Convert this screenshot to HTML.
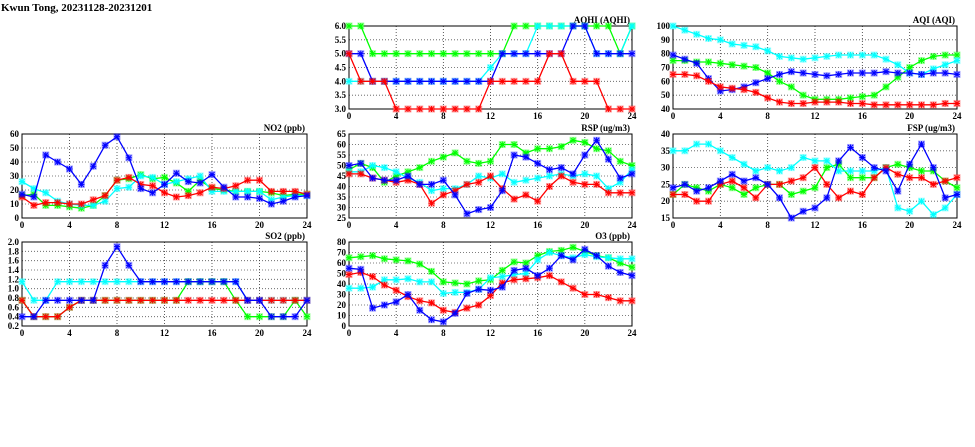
<!DOCTYPE html>
<html><head><meta charset="utf-8"><style>
html,body{margin:0;padding:0;background:#fff;width:975px;height:447px;overflow:hidden}
svg{display:block}
text{font-family:"Liberation Serif",serif;font-weight:bold;fill:#000}
</style></head><body>
<svg id="chart" width="975" height="447" viewBox="0 0 975 447" xmlns="http://www.w3.org/2000/svg">
<text x="1" y="11" font-size="11">Kwun Tong, 20231128-20231201</text>
</svg>
<script>
const hours = [0,1,2,3,4,5,6,7,8,9,10,11,12,13,14,15,16,17,18,19,20,21,22,23,24];
const xTicks = [0,4,8,12,16,20,24];
const GREEN = "#00ff00", CYAN = "#00ffff", BLUE = "#0000ff", RED = "#ff0000";

const aqhiGreen = [6,6,5,5,5,5,5,5,5,5,5,5,5,5,6,6,6,6,6,6,6,6,6,5,6];
const aqhiCyan  = [4,4,4,4,4,4,4,4,4,4,4,4,4.5,5,5,5,6,6,6,6,6,5,5,5,6];
const aqhiBlue  = [5,5,4,4,4,4,4,4,4,4,4,4,4,5,5,5,5,5,5,6,6,5,5,5,5];
const aqhiRed   = [5,4,4,4,3,3,3,3,3,3,3,3,4,4,4,4,4,5,5,4,4,4,3,3,3];
const aqhiTicks = [3.0,3.5,4.0,4.5,5.0,5.5,6.0];

const aqiCyan  = [100,97,94,91,90,87,86,85,82,78,77,76,77,78,79,79,79,79,76,72,66,65,69,72,75];
const aqiGreen = [75,75,74,74,73,72,71,70,66,60,56,50,47,47,47,48,49,50,56,63,70,75,78,79,79];
const aqiBlue  = [79,76,73,62,53,54,56,59,62,65,67,66,65,64,65,66,66,66,67,66,66,65,66,66,65];
const aqiRed   = [65,65,64,60,56,55,54,52,48,45,44,44,45,45,45,44,44,43,43,43,43,43,43,44,44];
const aqiTicks = [40,50,60,70,80,90,100];

const no2Cyan  = [26,21,18,12,10,9,9,12,21,22,30,29,24,26,28,30,19,19,19,19,19,13,15,16,16];
const no2Green = [16,17,9,9,8,7,9,16,27,28,31,28,29,25,19,27,21,20,19,19,19,18,16,17,17];
const no2Red   = [15,9,11,11,10,10,13,16,27,29,24,23,18,15,16,18,22,21,23,27,27,19,19,19,17];
const no2Blue  = [17,15,45,40,35,24,37,52,58,43,21,18,24,32,26,25,31,22,15,15,14,10,12,15,16];
const no2Ticks = [0,10,20,30,40,50,60];

const rspGreen = [48,51,49,42,45,47,49,52,54,56,52,51,52,60,60,56,58,58,59,62,61,58,57,52,50];
const rspCyan  = [47,47,50,49,47,44,42,38,39,39,41,45,44,46,42,43,44,45,46,45,46,45,39,42,48];
const rspRed   = [46,46,44,43,42,43,41,32,36,38,41,42,45,39,34,36,33,40,45,42,41,41,37,37,37];
const rspBlue  = [50,51,44,43,43,45,41,41,43,36,27,29,30,38,55,54,51,48,49,46,55,62,53,44,46];
const rspTicks = [25,30,35,40,45,50,55,60,65];

const fspCyan  = [35,35,37,37,35,33,31,29,30,29,30,33,32,32,29,29,29,29,30,18,17,20,16,18,22];
const fspGreen = [22,25,24,23,25,24,22,24,25,25,22,23,24,30,31,27,27,27,30,31,30,29,29,26,24];
const fspRed   = [22,22,20,20,25,26,24,21,25,25,26,27,30,25,21,23,22,27,30,28,27,27,25,26,27];
const fspBlue  = [24,25,23,24,26,28,26,27,25,21,15,17,18,21,32,36,33,30,29,23,31,37,30,21,22];
const fspTicks = [15,20,25,30,35,40];

const so2Cyan  = [1.15,0.75,0.75,1.15,1.15,1.15,1.15,1.15,1.15,1.15,1.15,1.15,1.15,1.15,1.15,1.15,1.15,1.15,1.15,0.75,0.75,0.75,0.75,0.75,0.75];
const so2Green = [0.75,0.4,0.4,0.4,0.6,0.75,0.75,0.75,0.75,0.75,0.75,0.75,0.75,0.75,1.15,1.15,1.15,1.15,0.75,0.4,0.4,0.4,0.4,0.75,0.4];
const so2Red   = [0.75,0.4,0.4,0.4,0.6,0.75,0.75,0.75,0.75,0.75,0.75,0.75,0.75,0.75,0.75,0.75,0.75,0.75,0.75,0.75,0.75,0.75,0.75,0.75,0.75];
const so2Blue  = [0.4,0.4,0.75,0.75,0.75,0.75,0.75,1.5,1.9,1.5,1.15,1.15,1.15,1.15,1.15,1.15,1.15,1.15,1.15,0.75,0.75,0.4,0.4,0.4,0.75];
const so2Ticks = [0.2,0.4,0.6,0.8,1.0,1.2,1.4,1.6,1.8,2.0];

const o3Green = [65,66,67,64,63,62,59,52,42,41,40,43,44,53,61,60,67,71,72,75,71,67,65,60,56];
const o3Cyan  = [36,36,37,44,44,45,42,42,31,32,32,35,46,47,49,50,63,70,67,65,68,66,65,64,64];
const o3Red   = [49,51,47,39,34,28,24,22,15,13,17,20,29,41,44,45,46,48,42,36,30,30,27,24,24];
const o3Blue  = [55,54,17,20,23,30,15,6,4,12,31,35,34,37,53,55,48,55,67,63,73,67,57,51,48];
const o3Ticks = [0,10,20,30,40,50,60,70,80];

const NS = "http://www.w3.org/2000/svg";
const svg = document.getElementById("chart");
function mk(tag, attrs, parent){
  const e = document.createElementNS(NS, tag);
  for (const k in attrs) e.setAttribute(k, attrs[k]);
  (parent||svg).appendChild(e);
  return e;
}

function panel(id, title, x0, x1, yTop, yBot, ticks, dec, series){
  const g = mk("g", {});
  
  
  const yMin = ticks[0], yMax = ticks[ticks.length-1];
  const xs = h => x0 + (h/24)*(x1-x0);
  const ys = v => yBot - (v-yMin)/(yMax-yMin)*(yBot-yTop);
  ticks.forEach(t => {
    const l = mk("line", {x1:x0, x2:x1, y1:ys(t), y2:ys(t), stroke:"#555", "stroke-width":0.8, "stroke-dasharray":"1,2"}, g);
    
    
    const tx = mk("text", {x:x0-3, y:ys(t)+3, "font-size":9, "text-anchor":"end"}, g);
    
    
    tx.textContent = t.toFixed(dec);
  });
  xTicks.forEach(t => {
    const l = mk("line", {x1:xs(t), x2:xs(t), y1:yTop, y2:yBot, stroke:"#333", "stroke-width":0.8, "stroke-dasharray":"1,2"}, g);
    
    
    const tx = mk("text", {x:xs(t), y:yBot+10, "font-size":9, "text-anchor":"middle"}, g);
    
    
    tx.textContent = t;
  });
  const fr = mk("rect", {x:x0, y:yTop, width:x1-x0, height:yBot-yTop, fill:"none", stroke:"#000", "stroke-width":1}, g);
  
  
  const tt = mk("text", {x:x1-2, y:yTop-3, "font-size":9, "text-anchor":"end"}, g);
  
  
  tt.textContent = title;
  series.forEach(([vals, col]) => {
    const pts = vals.map((v,i) => xs(hours[i]).toFixed(1)+","+ys(v).toFixed(1)).join(" ");
    const pl = mk("polyline", {points:pts, fill:"none", stroke:col, "stroke-width":1.3}, g);
    
    
    vals.forEach((v,i) => {
      const cx = xs(hours[i]), cy = ys(v);
      const m = mk("g", {}, g);
      
      
      mk("rect", {x:cx-3.5, y:cy-3.5, width:7, height:7, fill:col, opacity:0.35}, m);
      mk("path", {d:`M${cx-2.5},${cy-2.5}L${cx+2.5},${cy+2.5}M${cx-2.5},${cy+2.5}L${cx+2.5},${cy-2.5}M${cx},${cy-3}L${cx},${cy+3}M${cx-3},${cy}L${cx+3},${cy}`, stroke:col, "stroke-width":1}, m);
    });
  });
}

panel("aqhi","AQHI (AQHI)",349,632,26,109,aqhiTicks,1,[[aqhiGreen,GREEN],[aqhiCyan,CYAN],[aqhiBlue,BLUE],[aqhiRed,RED]]);
panel("aqi","AQI (AQI)",673,957,26,109,aqiTicks,0,[[aqiGreen,GREEN],[aqiCyan,CYAN],[aqiBlue,BLUE],[aqiRed,RED]]);
panel("no2","NO2 (ppb)",22,307,134,218,no2Ticks,0,[[no2Green,GREEN],[no2Cyan,CYAN],[no2Red,RED],[no2Blue,BLUE]]);
panel("rsp","RSP (ug/m3)",349,632,134,218,rspTicks,0,[[rspGreen,GREEN],[rspCyan,CYAN],[rspRed,RED],[rspBlue,BLUE]]);
panel("fsp","FSP (ug/m3)",673,957,134,218,fspTicks,0,[[fspGreen,GREEN],[fspCyan,CYAN],[fspRed,RED],[fspBlue,BLUE]]);
panel("so2","SO2 (ppb)",22,307,242,326,so2Ticks,1,[[so2Cyan,CYAN],[so2Green,GREEN],[so2Red,RED],[so2Blue,BLUE]]);
panel("o3","O3 (ppb)",349,632,242,326,o3Ticks,0,[[o3Green,GREEN],[o3Cyan,CYAN],[o3Red,RED],[o3Blue,BLUE]]);
</script>
</body></html>
